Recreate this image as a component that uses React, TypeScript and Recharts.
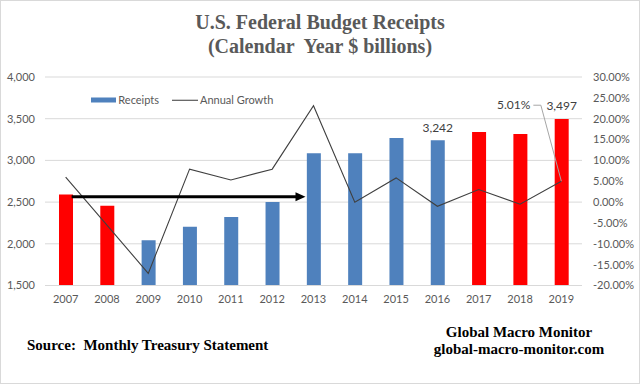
import React from 'react';
import {
  ComposedChart,
  Bar,
  Line,
  XAxis,
  YAxis,
  CartesianGrid,
  Cell,
  LabelList,
  Legend,
  ReferenceLine,
} from 'recharts';

const years = ['2007', '2008', '2009', '2010', '2011', '2012', '2013', '2014', '2015', '2016', '2017', '2018', '2019'];
const receipts = [2590, 2457, 2042, 2205, 2321, 2500, 3085, 3085, 3269, 3242, 3340, 3317, 3497];
const annualGrowth = [6.0, -5.5, -17.1, 7.9, 5.3, 7.9, 23.1, 0.0, 5.8, -1.0, 3.0, -0.5, 5.01];
const highlightedYears = ['2007', '2008', '2017', '2018', '2019'];
const labeledReceiptYears = ['2016', '2019'];
const labeledGrowthYears = ['2019'];
const leftTicks = [1500, 2000, 2500, 3000, 3500, 4000];
const rightTicks = [-20, -15, -10, -5, 0, 5, 10, 15, 20, 25, 30];
const arrowFromYear = '2007';
const arrowToYear = '2013';
const arrowLevel = 2565;

const data = years.map((year, i) => ({ year, receipts: receipts[i], growth: annualGrowth[i] }));

const BLUE = '#4F81BD';
const RED = '#FF0000';
const TICK_FONT = 'Lato, "Open Sans", sans-serif';
const TICK_COLOR = '#595959';

const tickStyle = { fontFamily: TICK_FONT, fontSize: 11, fill: TICK_COLOR };

const ArrowShape = (props: any) => {
  const { x1, y1, x2 } = props;
  if (x1 == null || x2 == null) return null;
  const sx = x1 + 6;
  const ex = x2 - 8;
  const y = y1;
  return (
    <g>
      <line x1={sx} y1={y} x2={ex - 8} y2={y} stroke="#000" strokeWidth={3} />
      <polygon points={`${ex},${y} ${ex - 10},${y - 4.5} ${ex - 10},${y + 4.5}`} fill="#000" />
    </g>
  );
};

const ReceiptLabel = (props: any) => {
  const { x, y, width, value, index } = props;
  if (!labeledReceiptYears.includes(years[index])) return null;
  return (
    <text
      x={x + width / 2}
      y={y - 8.5}
      textAnchor="middle"
      style={{ fontFamily: TICK_FONT, fontSize: 12, fill: '#404040' }}
    >
      {Number(value).toLocaleString('en-US')}
    </text>
  );
};

const GrowthLabel = (props: any) => {
  const { x, y, value, index } = props;
  if (!labeledGrowthYears.includes(years[index])) return null;
  const ly = y - 76;
  return (
    <g>
      <path
        d={`M${x - 28},${ly} H${x - 20.5} L${x},${y}`}
        fill="none"
        stroke="#a6a6a6"
        strokeWidth={1}
      />
      <text
        x={x - 31}
        y={ly + 4}
        textAnchor="end"
        style={{ fontFamily: TICK_FONT, fontSize: 12, fill: '#404040' }}
      >
        {Number(value).toFixed(2)}%
      </text>
    </g>
  );
};

const LegendContent = () => (
  <svg width={200} height={16} style={{ display: 'block' }}>
    <rect x={3} y={5.5} width={25} height={5} fill={BLUE} />
    <text x={30.3} y={12} style={{ fontFamily: TICK_FONT, fontSize: 11, fill: TICK_COLOR }}>
      Receipts
    </text>
    <line x1={84} x2={110} y1={8.3} y2={8.3} stroke="#595959" strokeWidth={1.2} />
    <text x={112} y={12} style={{ fontFamily: TICK_FONT, fontSize: 11, fill: TICK_COLOR }}>
      Annual Growth
    </text>
  </svg>
);

const serif = '"Liberation Serif", "Times New Roman", serif';

export default function App() {
  return (
    <div
      style={{
        position: 'fixed',
        left: 0,
        top: 0,
        width: 640,
        height: 384,
        background: '#fff',
        overflow: 'hidden',
      }}
    >
      <div
        style={{
          position: 'absolute',
          left: 0,
          top: 10,
          width: 640,
          textAlign: 'center',
          fontFamily: serif,
          fontWeight: 'bold',
          fontSize: 20,
          lineHeight: '24px',
          color: '#595959',
          whiteSpace: 'pre',
        }}
      >
        <div>U.S. Federal Budget Receipts</div>
        <div>{'(Calendar  Year $ billions)'}</div>
      </div>

      <div style={{ position: 'absolute', left: 0, top: 0 }}>
        <ComposedChart
          width={640}
          height={384}
          data={data}
          margin={{ top: 77, right: 0, bottom: 78.5, left: 0 }}
          barCategoryGap={0}
        >
          <CartesianGrid yAxisId="left" vertical={false} stroke="#d9d9d9" />
          <XAxis
            dataKey="year"
            height={20}
            tickLine={false}
            axisLine={{ stroke: '#d9d9d9' }}
            tickSize={0}
            tickMargin={10}
            tick={tickStyle}
            interval={0}
          />
          <YAxis
            yAxisId="left"
            orientation="left"
            width={45}
            domain={[1500, 4000]}
            ticks={leftTicks}
            tickLine={false}
            axisLine={false}
            tickSize={0}
            tickMargin={10}
            tick={tickStyle}
            tickFormatter={(v: number) => v.toLocaleString('en-US')}
            interval={0}
            allowDataOverflow
          />
          <YAxis
            yAxisId="right"
            orientation="right"
            width={58}
            domain={[-20, 30]}
            ticks={rightTicks}
            tickLine={false}
            axisLine={false}
            tickSize={0}
            tickMargin={11}
            tick={tickStyle}
            tickFormatter={(v: number) => `${v.toFixed(2)}%`}
            interval={0}
            allowDataOverflow
          />
          <Legend
            layout="horizontal"
            verticalAlign="middle"
            align="center"
            content={<LegendContent />}
            wrapperStyle={{ left: 88, top: 92, width: 200, height: 16 }}
          />
          <Bar yAxisId="left" dataKey="receipts" barSize={14} isAnimationActive={false}>
            {data.map((d) => (
              <Cell key={d.year} fill={highlightedYears.includes(d.year) ? RED : BLUE} />
            ))}
            <LabelList dataKey="receipts" content={<ReceiptLabel />} />
          </Bar>
          <Line
            yAxisId="right"
            dataKey="growth"
            type="linear"
            stroke="#404040"
            strokeWidth={1.1}
            dot={false}
            activeDot={false}
            isAnimationActive={false}
          >
            <LabelList dataKey="growth" content={<GrowthLabel />} />
          </Line>
          <ReferenceLine
            yAxisId="left"
            segment={[
              { x: arrowFromYear, y: arrowLevel },
              { x: arrowToYear, y: arrowLevel },
            ]}
            shape={<ArrowShape />}
          />
        </ComposedChart>
      </div>

      <div
        style={{
          position: 'absolute',
          left: 27,
          top: 336,
          fontFamily: serif,
          fontWeight: 'bold',
          fontSize: 15,
          lineHeight: '18px',
          color: '#000',
          whiteSpace: 'pre',
        }}
      >
        {'Source:  Monthly Treasury Statement'}
      </div>
      <div
        style={{
          position: 'absolute',
          left: 419,
          top: 324,
          width: 200,
          textAlign: 'center',
          fontFamily: serif,
          fontWeight: 'bold',
          fontSize: 15,
          lineHeight: '17px',
          color: '#000',
          whiteSpace: 'pre',
        }}
      >
        <div>Global Macro Monitor</div>
        <div>global-macro-monitor.com</div>
      </div>

      <div
        style={{
          position: 'absolute',
          left: 0,
          top: 0,
          width: 640,
          height: 384,
          boxSizing: 'border-box',
          border: '1px solid #d9d9d9',
          pointerEvents: 'none',
        }}
      />
    </div>
  );
}
